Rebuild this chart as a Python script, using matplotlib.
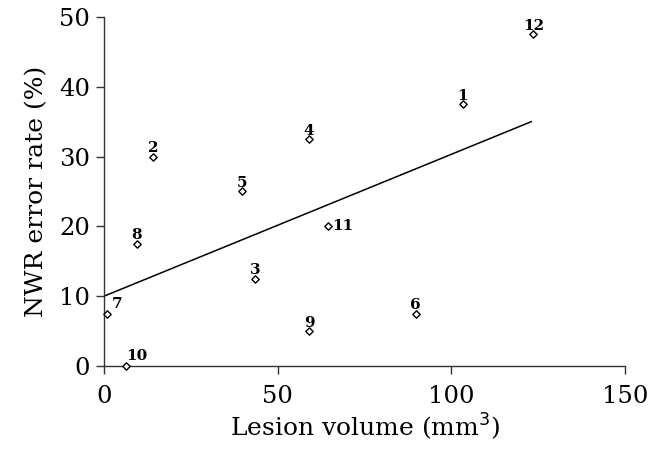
import numpy as np
import matplotlib.pyplot as plt

plt.rcParams['font.family'] = ['DejaVu Serif']

# lesion volume (mm3) and NWR error rate (%) per patient
patients = ['1', '2', '3', '4', '5', '6', '7', '8', '9', '10', '11', '12']
volume = [103.3, 14.1, 43.4, 59.0, 39.7, 89.7, 0.9, 9.5, 59.0, 6.3, 64.4, 123.6]
error_rate = [37.5, 30.0, 12.5, 32.5, 25.0, 7.5, 7.5, 17.5, 5.0, 0.0, 20.0, 47.5]

# regression line as drawn
fit_x = [0, 123]
fit_y = [10.0, 35.0]

# label offsets in points (dx, dy)
offsets = {'7': (3, 2), '10': (0, 2), '11': (3, 0)}

fig = plt.figure(figsize=(6.65, 4.5), dpi=100)
ax = fig.add_axes([0.1564, 0.1867, 0.7835, 0.7756])

ax.plot(fit_x, fit_y, color='black', lw=1.1)
ax.scatter(volume, error_rate, marker='D', s=14, facecolor='white',
           edgecolor='black', linewidths=1.0, zorder=3, clip_on=False)

for p, x, y in zip(patients, volume, error_rate):
    dx, dy = offsets.get(p, (0, 1))
    ha = 'left' if p in offsets else 'center'
    va = 'center' if p == '11' else 'bottom'
    ax.annotate(p, (x, y), xytext=(dx, dy), textcoords='offset points',
                ha=ha, va=va, fontsize=11, fontweight='bold')

ax.set_xlim(0, 150)
ax.set_ylim(0, 50)
ax.set_xticks([0, 50, 100, 150])
ax.set_yticks([0, 10, 20, 30, 40, 50])
for s in ['top', 'right']:
    ax.spines[s].set_visible(False)
for s in ['left', 'bottom']:
    ax.spines[s].set_linewidth(1.0)
    ax.spines[s].set_color('#333333')
ax.tick_params(direction='out', length=6, width=1.0, color='#333333',
               labelsize=17.5)
ax.tick_params(axis='x', pad=8)
ax.tick_params(axis='y', pad=4)

ax.set_xlabel('Lesion volume (mm$^3$)', fontsize=18, labelpad=2)
ax.set_ylabel('NWR error rate (%)', fontsize=18, labelpad=8)

fig.savefig('out.png', dpi=100)
